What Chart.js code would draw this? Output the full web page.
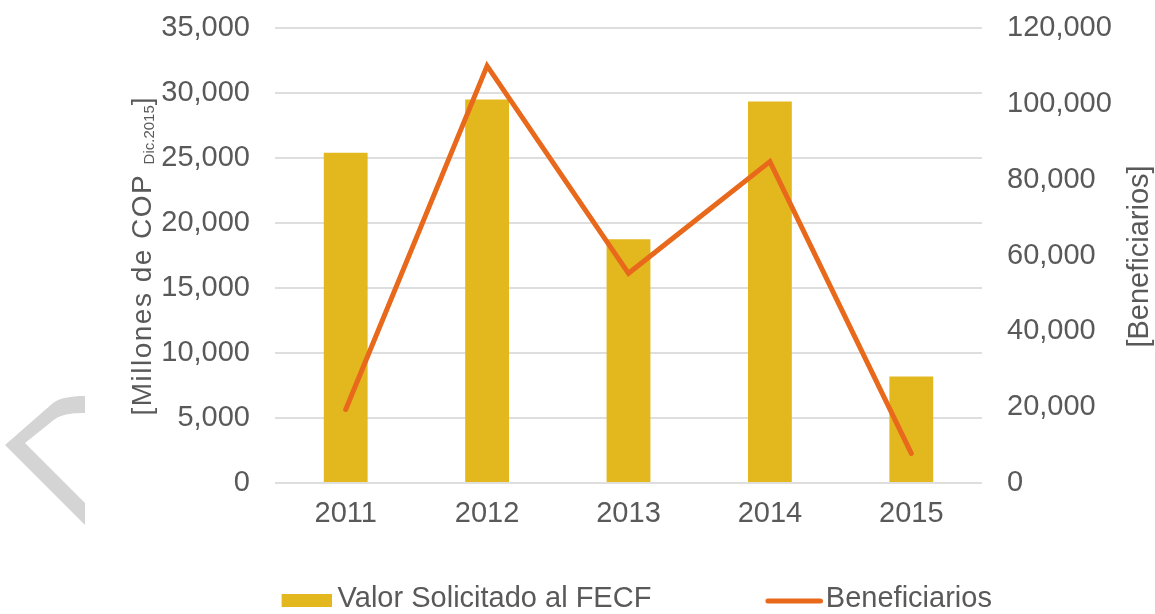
<!DOCTYPE html>
<html>
<head>
<meta charset="utf-8">
<script src="https://cdn.jsdelivr.net/npm/chart.js@4.4.1/dist/chart.umd.min.js"></script>
<style>
  html, body { margin: 0; padding: 0; background: #ffffff; overflow: hidden; }
  #wrap { position: relative; width: 1155px; height: 614px; overflow: hidden; }
  canvas { display: block; }
  #mark { position: absolute; left: 0; top: 0; pointer-events: none; }
</style>
</head>
<body>
<div id="wrap">
  <canvas id="c" width="1155" height="623"></canvas>
  <svg id="mark" width="100" height="614">
    <path d="M85,396 C70,396 60,398 53,403 L5,445 L85,525 L85,503 L25,443 L50,423 C58,416 65,413 85,413 Z" fill="#d4d4d4"/>
  </svg>
</div>
<script>
// ---------- data ----------
const categories = ['2011', '2012', '2013', '2014', '2015'];
const valorSolicitado = [25400, 29500, 18750, 29350, 8200];      // Millones de COP Dic.2015
const beneficiarios = [19400, 110000, 55300, 84750, 7800];       // Beneficiarios
const seriesNames = ['Valor Solicitado al FECF', 'Beneficiarios'];
const leftTitleParts = ['[Millones de COP ', 'Dic.2015', ']'];
const rightTitle = '[Beneficiarios]';
const leftMax = 35000, leftStep = 5000;
const rightMax = 120000, rightStep = 20000;

// ---------- style ----------
const barColor = '#E3B81F';
const lineColor = '#E8691B';
const textColor = '#595959';
const gridColor = '#DEDEDE';
const FONT = '"Liberation Sans", Arial, Helvetica, sans-serif';
const fmt = v => Number(v).toLocaleString('en-US');

Chart.defaults.font.family = FONT;
Chart.defaults.color = textColor;

// legend swatches (drawn as point-style images)
const legendFont = 29, boxW = 160;
function swatch(W, H, draw) {
  const c = document.createElement('canvas');
  c.width = W; c.height = H;
  draw(c.getContext('2d'));
  return c;
}
const barSwatch = swatch(boxW + legendFont - 12, 17, g => {
  g.fillStyle = barColor; g.fillRect(boxW + legendFont - 12 - 50, 4, 50, 13);
});
const lineSwatch = swatch(boxW + legendFont - 6, 17, g => {
  const W = boxW + legendFont - 6;
  g.strokeStyle = lineColor; g.lineWidth = 5; g.lineCap = 'round';
  g.beginPath(); g.moveTo(W - 55, 11); g.lineTo(W - 2.5, 11); g.stroke();
});

// axis titles drawn rotated (reading bottom-to-top on both sides)
function drawRotated(ctx, x, cy, parts) {
  ctx.save();
  ctx.translate(x, cy);
  ctx.rotate(-Math.PI / 2);
  ctx.fillStyle = textColor;
  ctx.textBaseline = 'alphabetic';
  ctx.textAlign = 'left';
  let total = 0;
  parts.forEach(p => {
    ctx.font = p.font; ctx.letterSpacing = p.spacing || '0px';
    p.w = ctx.measureText(p.text).width; total += p.w;
  });
  let pos = -total / 2;
  parts.forEach(p => {
    ctx.font = p.font; ctx.letterSpacing = p.spacing || '0px';
    ctx.fillText(p.text, pos, p.dy || 0);
    pos += p.w;
  });
  ctx.restore();
}
const axisTitles = {
  id: 'axisTitles',
  afterDraw(chart) {
    const { ctx, chartArea } = chart;
    const cy = (chartArea.top + chartArea.bottom) / 2 + 1;
    drawRotated(ctx, 150.5, cy, [
      { text: leftTitleParts[0], font: '28px ' + FONT, spacing: '1.5px' },
      { text: leftTitleParts[1], font: '15px ' + FONT, dy: 3 },
      { text: leftTitleParts[2], font: '28px ' + FONT }
    ]);
    drawRotated(ctx, 1148, cy, [
      { text: rightTitle, font: '29px ' + FONT }
    ]);
  }
};

function fitY(width) {
  return s => { s.width = width; s.paddingTop = 10; s.paddingBottom = 10; };
}

new Chart(document.getElementById('c'), {
  data: {
    labels: categories,
    datasets: [
      {
        type: 'bar',
        label: seriesNames[0],
        data: valorSolicitado,
        backgroundColor: barColor,
        borderWidth: 0,
        yAxisID: 'y',
        order: 2,
        categoryPercentage: 1,
        barPercentage: 0.31
      },
      {
        type: 'line',
        label: seriesNames[1],
        data: beneficiarios,
        borderColor: lineColor,
        backgroundColor: lineColor,
        borderWidth: 5,
        pointRadius: 0,
        pointHoverRadius: 0,
        tension: 0,
        fill: false,
        borderJoinStyle: 'miter',
        borderCapStyle: 'round',
        yAxisID: 'y1',
        order: 1
      }
    ]
  },
  options: {
    responsive: false,
    animation: false,
    devicePixelRatio: 1,
    layout: { padding: { top: 28, left: 0, right: 0, bottom: 0 } },
    plugins: {
      tooltip: { enabled: false },
      legend: {
        position: 'bottom',
        align: 'center',
        labels: {
          usePointStyle: true,
          pointStyleWidth: boxW,
          padding: 0,
          color: textColor,
          font: { size: legendFont },
          generateLabels: () => [
            { text: seriesNames[0], fillStyle: barColor, strokeStyle: barColor, lineWidth: 0, pointStyle: barSwatch, datasetIndex: 0, hidden: false, fontColor: textColor },
            { text: seriesNames[1], fillStyle: lineColor, strokeStyle: lineColor, lineWidth: 0, pointStyle: lineSwatch, datasetIndex: 1, hidden: false, fontColor: textColor }
          ]
        }
      }
    },
    scales: {
      x: {
        grid: { display: false, drawTicks: false },
        border: { display: false },
        ticks: { padding: 14, color: textColor, font: { size: 29 } },
        afterFit: s => { s.height = 101; }
      },
      y: {
        position: 'left',
        min: 0, max: leftMax,
        ticks: { stepSize: leftStep, padding: 25, color: textColor, font: { size: 29 }, callback: fmt },
        grid: { color: gridColor, lineWidth: 2, drawTicks: false },
        border: { display: false },
        afterFit: fitY(275)
      },
      y1: {
        position: 'right',
        min: 0, max: rightMax,
        ticks: { stepSize: rightStep, padding: 25, color: textColor, font: { size: 29 }, callback: fmt },
        grid: { display: false, drawTicks: false },
        border: { display: false },
        afterFit: fitY(173)
      }
    }
  },
  plugins: [axisTitles]
});
</script>
</body>
</html>
